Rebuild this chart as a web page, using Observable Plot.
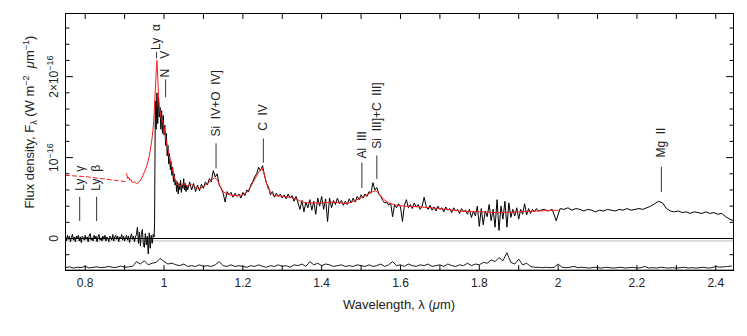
<!DOCTYPE html>
<html><head><meta charset="utf-8">
<script src="https://cdn.jsdelivr.net/npm/d3@7"></script>
<script src="https://cdn.jsdelivr.net/npm/@observablehq/plot@0.6"></script>
<style>body{margin:0;background:#fff;} svg{display:block;}</style>
</head><body><div id="chart"></div>
<script>
// Flux density in units of 1e-16 W m^-2 um^-1, wavelength in um

// Observed spectrum, sampled on regular wavelength grids
const seg1Start = 0.75, seg1Step = 0.0025;
const seg1Flux = [
0.02,-0.03,0.04,-0.01,0.03,-0.04,0.01,0.05,-0.02,0.02,
-0.04,0.03,0.00,0.04,-0.03,0.02,-0.05,0.03,0.01,-0.02,
0.04,-0.01,0.02,-0.04,0.03,0.06,-0.02,0.01,-0.03,0.04,
0.00,0.03,-0.04,0.02,0.05,-0.02,0.01,-0.03,0.03,-0.01,
0.04,-0.03,0.02,0.00,-0.04,0.03,0.01,-0.02,0.05,-0.03,
0.02,0.04,-0.01,0.03,-0.04,0.02,0.00,0.05,-0.02,0.03,
-0.03,0.01,0.04,-0.02,0.03,-0.05,0.02,0.06,-0.01,0.03,
-0.04,0.02,0.05,0.14,-0.06,0.08,-0.09,0.05,0.11,-0.07,
-0.11,0.06,-0.08,0.03,-0.19,0.07,-0.12,0.04,-0.06,0.05,0.02];
const seg2Start = 0.976, seg2Step = 0.002;
const seg2Flux = [
0.20,1.70,1.35,1.80,1.42,1.75,1.50,1.62,1.35,1.58,
1.30,1.52,1.28,1.40,1.15,1.30,1.02,1.15,0.92,1.05,
0.85,0.95,0.78,0.88,0.70,0.80,0.66,0.72,0.58,0.70,
0.55,0.68,0.60,0.72,0.57,0.66,0.62,0.74,0.60,0.68,
0.58,0.66,0.60];
const seg3Start = 1.065, seg3Step = 0.005;
const seg3Flux = [
0.70,0.60,0.68,0.58,0.66,0.59,0.67,0.62,0.70,0.66,
0.74,0.70,0.84,0.76,0.80,0.66,0.62,0.56,0.45,0.58,
0.54,0.57,0.51,0.56,0.52,0.55,0.50,0.57,0.53,0.60,
0.58,0.66,0.70,0.76,0.80,0.88,0.84,0.90,0.78,0.68,
0.64,0.54,0.58,0.51,0.56,0.52,0.55,0.50,0.54,0.49,
0.55,0.50,0.53,0.46,0.52,0.44,0.36,0.47,0.33,0.45,
0.38,0.48,0.35,0.46,0.30,0.50,0.40,0.52,0.36,0.49,
0.21,0.50,0.38,0.47,0.42,0.50,0.43,0.47,0.41,0.46,
0.42,0.49,0.44,0.50,0.45,0.52,0.48,0.54,0.50,0.55,
0.52,0.58,0.56,0.69,0.60,0.63,0.55,0.52,0.47,0.44,
0.45,0.41,0.44,0.27,0.42,0.38,0.43,0.39,0.21,0.41,
0.48,0.38,0.42,0.37,0.44,0.39,0.42,0.36,0.40,0.51,
0.40,0.36,0.41,0.35,0.39,0.34,0.40,0.36,0.38,0.33,
0.39,0.35,0.37,0.32,0.38,0.34,0.36,0.31,0.37,0.33,
0.35,0.30,0.36,0.26,0.34,0.28,0.40,0.15,0.37,0.17,
0.34,0.27,0.42,0.22,0.36,0.14,0.48,0.10,0.40,0.24,
0.46,0.14,0.44,0.26,0.36,0.28,0.38,0.24,0.36,0.30,
0.43,0.29,0.37,0.31,0.36,0.33,0.37,0.34];
const seg4Start = 1.955, seg4Step = 0.01;
const seg4Flux = [
0.35,0.36,0.34,0.36,0.22,0.37,0.36,0.38,0.35,0.37,
0.36,0.34,0.36,0.35,0.33,0.35,0.34,0.36,0.35,0.34,
0.36,0.35,0.37,0.35,0.36,0.37,0.36,0.38,0.40,0.43,
0.46,0.44,0.37,0.34,0.33,0.34,0.32,0.33,0.31,0.33,
0.32,0.31,0.33,0.31,0.32,0.30,0.31,0.27,0.24,0.22];

// Noise spectrum (plotted offset at the bottom)
const noiseStart = 0.75, noiseStep = 0.01, noiseOffset = -0.385;
const noiseFlux = [
0.025,0.035,0.02,0.03,0.028,0.04,0.022,0.03,0.035,0.025,0.03,0.04,0.028,0.03,0.045,0.03,0.035,0.04,
0.10,0.07,0.11,0.06,0.08,0.09,0.14,0.10,0.07,0.08,0.06,0.05,0.07,0.04,0.05,0.04,0.06,
0.04,0.05,0.04,0.06,0.10,0.05,0.04,0.06,0.04,0.05,0.04,0.03,0.05,0.04,0.06,0.04,0.03,0.05,0.04,0.06,
0.04,0.05,0.03,0.06,0.05,0.07,0.04,0.10,0.06,0.08,0.05,0.07,0.06,0.04,0.05,0.06,0.04,0.05,0.04,0.06,
0.05,0.04,0.06,0.04,0.05,0.07,0.04,0.06,0.10,0.05,0.06,0.04,0.07,0.05,0.04,0.06,0.05,0.07,0.04,0.05,
0.06,0.04,0.07,0.05,0.04,0.06,0.05,0.08,0.05,0.07,0.06,0.09,0.08,0.12,0.10,0.15,0.11,0.21,0.09,0.07,
0.13,0.06,0.08,0.04,0.03,0.03,0.025,0.03,0.025,0.03,0.07,0.03,0.025,0.03,0.04,0.025,0.03,0.025,0.02,0.03,
0.025,0.02,0.03,0.025,0.02,0.025,0.03,0.02,0.025,0.03,0.02,0.025,0.04,0.02,0.025,0.02,0.03,0.025,0.02,0.025,
0.02,0.025,0.03,0.02,0.025,0.02,0.025,0.03,0.02,0.025,0.04,0.03,0.035,0.04,0.045];

// Composite quasar model (red)
const modelDashLam  = [0.75, 0.80, 0.85, 0.90, 0.905];
const modelDashFlux = [0.78, 0.765, 0.735, 0.705, 0.70];
const modelLam = [0.905,0.908,0.910,0.913,0.916,0.920,0.925,0.930,0.935,0.940,0.945,0.950,0.955,0.960,0.965,0.970,0.974,0.977,0.980,0.982,0.984,0.986,0.988,0.992,0.996,1.000,1.005,1.010,1.015,1.020,1.025,1.030,1.035,1.040,1.045,1.050,1.055,1.060,1.065,1.070,1.075,1.080,1.085,1.090,1.100,1.110,1.120,1.128,1.135,1.142,1.150,1.160,1.175,1.190,1.200,1.210,1.220,1.230,1.240,1.248,1.253,1.258,1.264,1.272,1.280,1.300,1.320,1.335,1.350,1.370,1.400,1.430,1.450,1.465,1.480,1.500,1.515,1.530,1.538,1.548,1.558,1.570,1.590,1.610,1.650,1.700,1.750,1.800,1.850,1.900,1.950,2.000];
const modelFlux = [0.80,0.74,0.76,0.72,0.73,0.69,0.70,0.68,0.69,0.72,0.76,0.82,0.88,0.96,1.08,1.25,1.45,1.75,2.05,2.20,2.00,1.75,1.62,1.50,1.45,1.38,1.22,1.10,0.98,0.88,0.78,0.70,0.66,0.65,0.67,0.68,0.66,0.64,0.66,0.67,0.65,0.63,0.62,0.62,0.64,0.68,0.72,0.75,0.73,0.65,0.58,0.55,0.53,0.53,0.54,0.57,0.64,0.73,0.82,0.87,0.82,0.72,0.62,0.56,0.53,0.52,0.51,0.49,0.45,0.44,0.44,0.45,0.44,0.43,0.46,0.50,0.54,0.58,0.59,0.54,0.48,0.44,0.41,0.40,0.39,0.37,0.34,0.33,0.32,0.33,0.34,0.35];

// Emission line identifications
const lineNames = ["Ly  γ","Ly  β","Ly  α","N   V","Si  IV+O  IV]","C  IV","Al  III","Si  III]+C  III]","Mg  II"];
const lineLam   = [0.786, 0.829, 0.981, 1.004, 1.132, 1.252, 1.502, 1.540, 2.262];
const lineLow   = [0.21, 0.21, 2.22, 1.74, 0.86, 0.93, 0.62, 0.73, 0.57];
const lineHigh  = [0.51, 0.51, 2.30, 1.96, 1.17, 1.23, 0.93, 1.02, 0.88];
const labelAt   = [0.59, 0.59, 2.33, 1.99, 1.26, 1.33, 0.99, 1.11, 1.00];

// Axis ticks
const xTicks = [0.8,0.9,1.0,1.1,1.2,1.3,1.4,1.5,1.6,1.7,1.8,1.9,2.0,2.1,2.2,2.3,2.4];
const xLabels = [0.8,1.0,1.2,1.4,1.6,1.8,2.0,2.2,2.4];
const yMinor = [-0.2,0.2,0.4,0.6,0.8,1.2,1.4,1.6,1.8,2.2,2.4,2.6];
const yMajor = [0,1,2];
const yLabelText = ["0","10^−16","2×10^−16"];

function grid(start, step, vals) { return vals.map((v, i) => ({lam: start + i * step, f: v})); }
const spectrum = [].concat(
  grid(seg1Start, seg1Step, seg1Flux), grid(seg2Start, seg2Step, seg2Flux),
  grid(seg3Start, seg3Step, seg3Flux), grid(seg4Start, seg4Step, seg4Flux));
const noise = grid(noiseStart, noiseStep, noiseFlux).map(d => ({lam: d.lam, f: d.f + noiseOffset}));
const modelDash = modelDashLam.map((x, i) => ({lam: x, f: modelDashFlux[i]}));
const model = modelLam.map((x, i) => ({lam: x, f: modelFlux[i]}));
const lines = lineNames.map((n, i) => ({name: n, lam: lineLam[i], y1: lineLow[i], y2: lineHigh[i], ty: labelAt[i]}));

const FF = "'Liberation Sans', Arial, Helvetica, sans-serif";
const stick = {draw(context, l) { context.moveTo(0, 0); context.lineTo(0, -l); }};
const tickStyle = {shape: stick, anchor: "start", stroke: "#000", strokeWidth: 1};
const chart = Plot.plot({
  width: 747, height: 336,
  marginLeft: 65, marginRight: 14, marginTop: 13, marginBottom: 66,
  style: {fontFamily: FF, fontSize: "12px", color: "#222", background: "#fff"},
  x: {domain: [0.75, 2.445], axis: null},
  y: {domain: [-0.395, 2.78], axis: null},
  marks: [
    Plot.ruleY([0], {stroke: "#000", strokeWidth: 1}),
    Plot.ruleY([-0.03], {stroke: "#bbb", strokeWidth: 1}),
    Plot.ruleY([noiseOffset], {stroke: "#999", strokeWidth: 1}),
    Plot.line(noise, {x: "lam", y: "f", stroke: "#000", strokeWidth: 0.9, clip: true}),
    Plot.line(spectrum, {x: "lam", y: "f", stroke: "#000", strokeWidth: 1, clip: true}),
    Plot.line(modelDash, {x: "lam", y: "f", stroke: "#ff1a1a", strokeWidth: 1, strokeDasharray: "4,3"}),
    Plot.line(model, {x: "lam", y: "f", stroke: "#ff1a1a", strokeWidth: 1}),
    Plot.ruleX(lines, {x: "lam", y1: "y1", y2: "y2", stroke: "#333", strokeWidth: 1}),
    Plot.text(lines, {x: "lam", y: "ty", text: "name", rotate: -90, textAnchor: "start", lineAnchor: "middle", fontSize: 12, fill: "#222"}),
    Plot.frame({stroke: "#000"}),
    // inward ticks on all four sides
    Plot.vector(xTicks, {x: d => d, frameAnchor: "bottom", length: 5, rotate: 0, ...tickStyle}),
    Plot.vector(xTicks, {x: d => d, frameAnchor: "top", length: 5, rotate: 180, ...tickStyle}),
    Plot.vector(yMinor, {y: d => d, frameAnchor: "left", length: 3.5, rotate: 90, ...tickStyle}),
    Plot.vector(yMajor, {y: d => d, frameAnchor: "left", length: 7, rotate: 90, ...tickStyle}),
    Plot.vector(yMinor, {y: d => d, frameAnchor: "right", length: 3.5, rotate: 270, ...tickStyle}),
    Plot.vector(yMajor, {y: d => d, frameAnchor: "right", length: 7, rotate: 270, ...tickStyle}),
    // tick labels
    Plot.axisX(xLabels, {anchor: "bottom", tickSize: 0, tickPadding: 8, tickFormat: d => String(+d.toFixed(1)), fontSize: 12, label: null}),
    Plot.axisY(yMajor, {anchor: "left", tickSize: 0, tickPadding: 8, tickRotate: -90, tickFormat: d => yLabelText[yMajor.indexOf(d)], fontSize: 12, label: null})
  ]
});
document.getElementById("chart").append(chart);

const svg = d3.select(chart);
// superscripts in tick labels
svg.selectAll("text").each(function () {
  const t = this.textContent;
  if (t.includes("^")) {
    const [a, b] = t.split("^");
    const el = d3.select(this);
    el.text(null);
    el.append("tspan").text(a);
    el.append("tspan").attr("font-size", 9).attr("dy", -5).text(b);
  }
});
// y axis title
const yt = svg.append("text").attr("transform", "translate(34,122) rotate(-90)")
  .attr("text-anchor", "middle").attr("font-family", FF).attr("font-size", 13).attr("fill", "#222");
yt.append("tspan").text("Flux density, F");
yt.append("tspan").attr("font-size", 9).attr("dy", 3).text("λ");
yt.append("tspan").attr("dy", -3).text(" (W m");
yt.append("tspan").attr("font-size", 9).attr("dy", -5).text("−2");
yt.append("tspan").attr("dy", 5).text("  ");
yt.append("tspan").attr("font-style", "italic").text("μ");
yt.append("tspan").text("m");
yt.append("tspan").attr("font-size", 9).attr("dy", -5).text("−1");
yt.append("tspan").attr("dy", 5).text(")");
// x axis title
const xt = svg.append("text").attr("transform", "translate(399,309)")
  .attr("text-anchor", "middle").attr("font-family", FF).attr("font-size", 13).attr("fill", "#222");
xt.append("tspan").text("Wavelength, λ (");
xt.append("tspan").attr("font-style", "italic").text("μ");
xt.append("tspan").text("m)");
</script>
</body></html>
